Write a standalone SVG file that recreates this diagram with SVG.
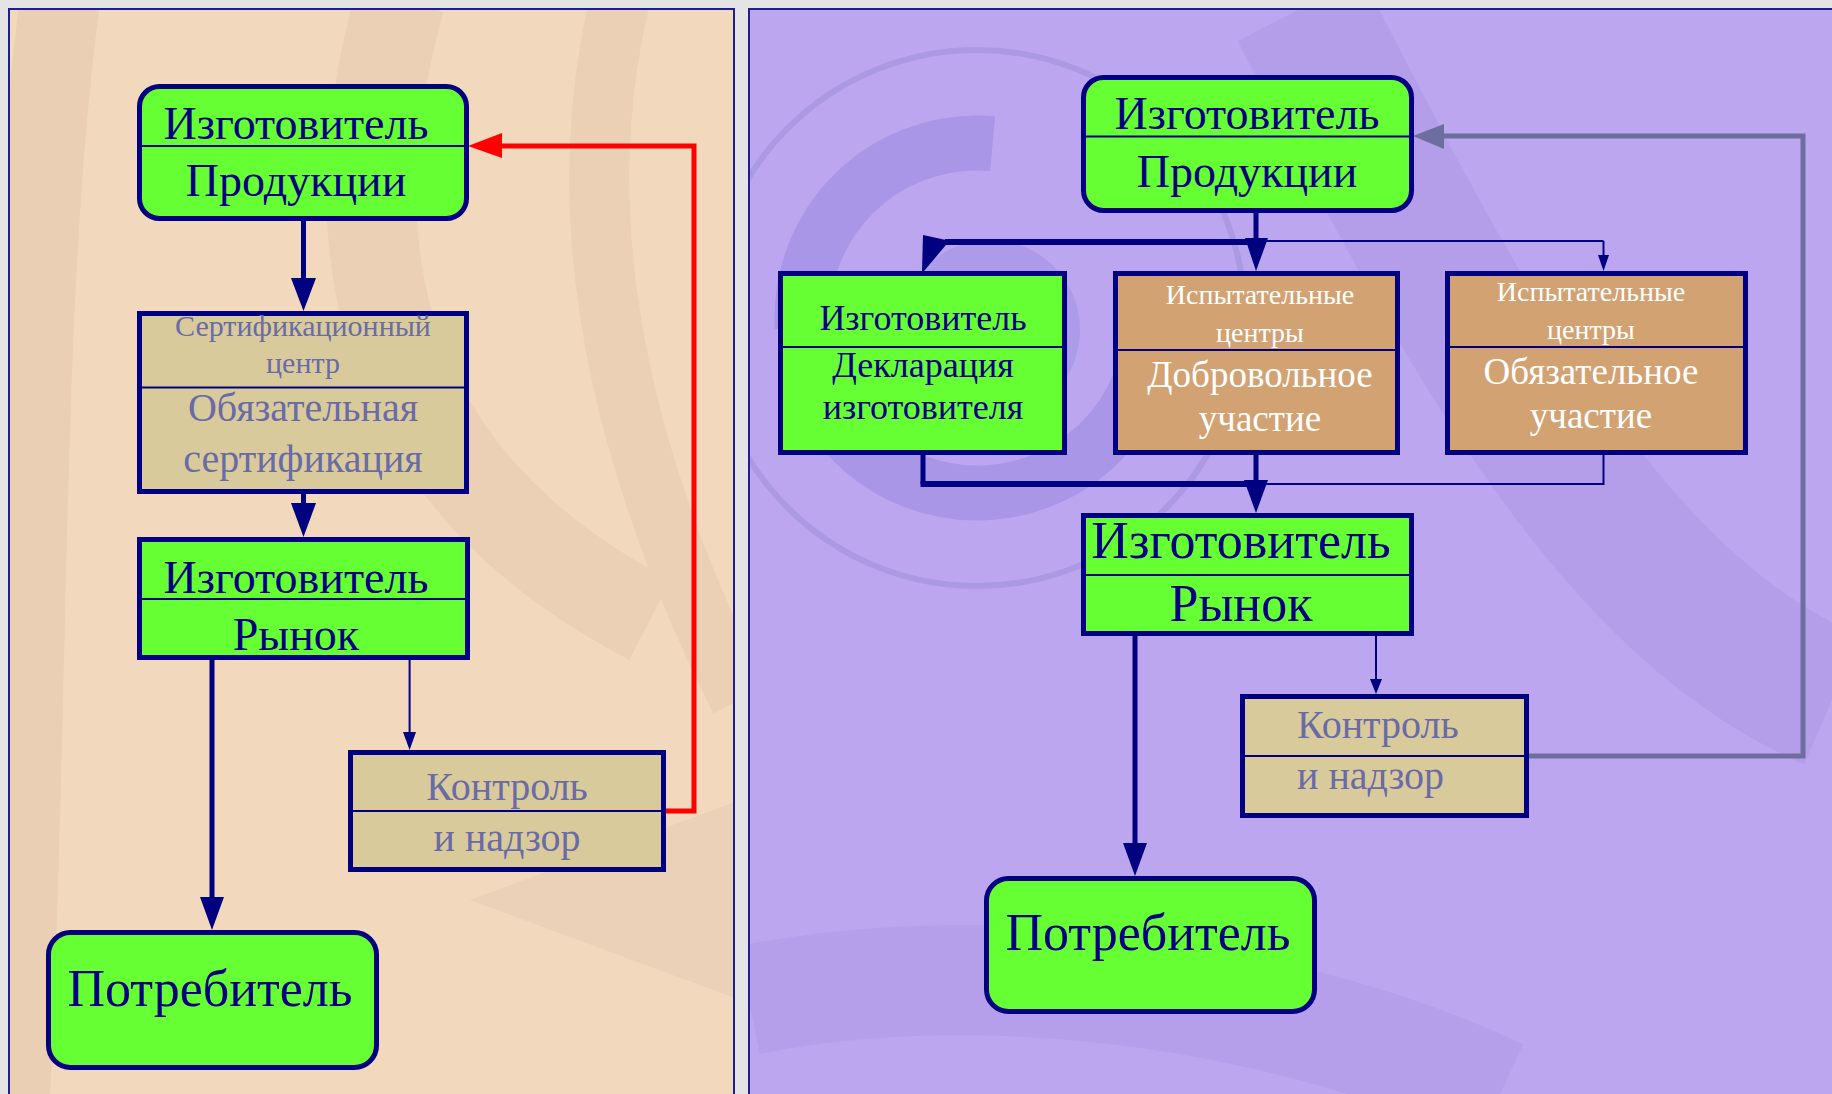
<svg xmlns="http://www.w3.org/2000/svg" width="1832" height="1094" viewBox="0 0 1832 1094">
<defs>
<style>
.g{fill:#66ff33;stroke:#000080;stroke-width:5}
.t{fill:#d9ca9b;stroke:#000080;stroke-width:5}
.o{fill:#d2a273;stroke:#000080;stroke-width:5}
.dv{stroke:#000080;stroke-width:2}
.tx{font-family:"Liberation Serif","Times New Roman",serif;text-anchor:middle}
.n{fill:#000080}
.gb{fill:#6a6aa6}
.w{fill:#ffffff}
.th{stroke:#000080;stroke-width:5;fill:none}
.tn{stroke:#000080;stroke-width:2;fill:none}
.hd{fill:#000080}
</style>
<clipPath id="cl"><rect x="9" y="9" width="725" height="1100"/></clipPath>
<clipPath id="cr"><rect x="749" y="9" width="1090" height="1100"/></clipPath>
</defs>
<rect x="0" y="0" width="1832" height="1094" fill="#e4e4e4"/>
<g id="panel-left">
<rect x="9" y="9" width="725" height="1100" fill="#f2d8bd"/>
<g clip-path="url(#cl)" fill="none">
<path d="M60,0 C 20,300 30,700 10,1094" stroke="#eacfb5" stroke-width="80"/>
<path d="M400,0 C 330,250 380,480 650,620" stroke="#ebd0b6" stroke-width="90"/>
<path d="M470,900 L 740,800 L 740,1000 Z" fill="#ebd1b7"/>
<path d="M620,0 C 560,250 640,500 740,700" stroke="#ebd0b6" stroke-width="60"/>
</g>
<rect x="9" y="9" width="725" height="1100" fill="none" stroke="#1f1f8c" stroke-width="2"/>
</g>
<g id="panel-right">
<rect x="749" y="9" width="1090" height="1100" fill="#bca6f0"/>
<g clip-path="url(#cr)" fill="none">
<path d="M1300,9 C 1450,300 1600,600 1832,700" stroke="#b59ee9" stroke-width="140"/>
<path d="M749,1000 C 1000,950 1300,1000 1500,1094" stroke="#b69fea" stroke-width="110"/>
<circle cx="977" cy="318" r="268" stroke="#ab99e4" stroke-width="6"/>
<circle cx="977" cy="318" r="175" stroke="#a996e6" stroke-width="55" stroke-dasharray="420 120 300 260"/>
<circle cx="990" cy="330" r="90" fill="#ad9ae8"/>
</g>
<rect x="749" y="9" width="1090" height="1100" fill="none" stroke="#1f1f8c" stroke-width="2"/>
</g>

<g id="connectors">
<line class="th" x1="303.5" y1="221" x2="303.5" y2="282"/>
<polygon class="hd" points="291,278 316,278 303.5,311"/>
<line class="th" x1="303.5" y1="494" x2="303.5" y2="506"/>
<polygon class="hd" points="291,503 316,503 303.5,537"/>
<line class="th" x1="212" y1="660" x2="212" y2="900"/>
<polygon class="hd" points="200,897 224,897 212,930"/>
<line class="tn" x1="409.6" y1="660" x2="409.6" y2="735"/>
<polygon class="hd" points="403,732 416,732 409.6,750"/>
<polyline points="666,811 694,811 694,146 500,146" fill="none" stroke="#ff0000" stroke-width="5"/>
<polygon points="502,133 502,158 468,146" fill="#ff0000"/>

<line class="th" x1="1256" y1="213" x2="1256" y2="242"/>
<line x1="945" y1="242" x2="1256" y2="242" stroke="#000080" stroke-width="6"/>
<polygon class="hd" points="923,235 946,240 946,245 924,271 922,271"/>
<line class="tn" x1="1256" y1="241" x2="1603.5" y2="241"/>
<line class="tn" x1="1603.5" y1="241" x2="1603.5" y2="258"/>
<polygon class="hd" points="1598,255 1609,255 1603.5,271"/>
<polygon class="hd" points="1245,238 1268,238 1256,271"/>

<line class="th" x1="923" y1="455" x2="923" y2="484"/>
<line x1="920.5" y1="484" x2="1256" y2="484" stroke="#000080" stroke-width="6"/>
<line class="tn" x1="1256" y1="484" x2="1603.5" y2="484"/>
<line class="tn" x1="1603.5" y1="455" x2="1603.5" y2="485"/>
<line class="th" x1="1256" y1="455" x2="1256" y2="482"/>
<polygon class="hd" points="1244,480 1268,480 1256,513"/>

<line class="th" x1="1135" y1="636" x2="1135" y2="846"/>
<polygon class="hd" points="1123,843 1147,843 1135,876"/>
<line class="tn" x1="1376" y1="636" x2="1376" y2="682"/>
<polygon class="hd" points="1370,679 1382,679 1376,694"/>
<polyline points="1529,756 1803,756 1803,136 1442,136" fill="none" stroke="#6b6e9e" stroke-width="5"/>
<polygon points="1444,124 1444,149 1413,136" fill="#6b6e9e"/>
</g>

<g id="L-izg-prod">
<rect class="g" x="139.5" y="86.5" width="327" height="132" rx="20"/>
<line class="dv" x1="139.5" y1="146" x2="466.5" y2="146"/>
<text class="tx n" x="296" y="139" font-size="46">Изготовитель</text>
<text class="tx n" x="296" y="196" font-size="46">Продукции</text>
</g>
<g id="L-cert">
<rect class="t" x="139.5" y="313.5" width="327" height="178"/>
<line class="dv" x1="139.5" y1="387.5" x2="466.5" y2="387.5"/>
<text class="tx gb" x="303" y="336" font-size="30">Сертификационный</text>
<text class="tx gb" x="303" y="373" font-size="30">центр</text>
<text class="tx gb" x="303" y="421" font-size="40">Обязательная</text>
<text class="tx gb" x="303" y="472" font-size="40">сертификация</text>
</g>
<g id="L-izg-rynok">
<rect class="g" x="139.5" y="539.5" width="328" height="118"/>
<line class="dv" x1="139.5" y1="599" x2="467.5" y2="599"/>
<text class="tx n" x="296" y="593" font-size="46">Изготовитель</text>
<text class="tx n" x="296" y="650" font-size="46">Рынок</text>
</g>
<g id="L-kontrol">
<rect class="t" x="350.5" y="752.5" width="313" height="117"/>
<line class="dv" x1="350.5" y1="811" x2="663.5" y2="811"/>
<text class="tx gb" x="507" y="800" font-size="40">Контроль</text>
<text class="tx gb" x="507" y="851" font-size="40">и надзор</text>
</g>
<g id="L-potr">
<rect class="g" x="48.5" y="932.5" width="328" height="135" rx="22"/>
<text class="tx n" x="210" y="1006" font-size="52">Потребитель</text>
</g>

<g id="R-izg-prod">
<rect class="g" x="1083.5" y="77.5" width="328" height="133" rx="20"/>
<line class="dv" x1="1083.5" y1="136.5" x2="1411.5" y2="136.5"/>
<text class="tx n" x="1247" y="129" font-size="46">Изготовитель</text>
<text class="tx n" x="1247" y="187" font-size="46">Продукции</text>
</g>
<g id="R-decl">
<rect class="g" x="780.5" y="273.5" width="284" height="179"/>
<line class="dv" x1="780.5" y1="347" x2="1064.5" y2="347"/>
<text class="tx n" x="923" y="330" font-size="36">Изготовитель</text>
<text class="tx n" x="923" y="377" font-size="36">Декларация</text>
<text class="tx n" x="923" y="419" font-size="36">изготовителя</text>
</g>
<g id="R-dobr">
<rect class="o" x="1115.5" y="273.5" width="282" height="179"/>
<line class="dv" x1="1115.5" y1="350" x2="1397.5" y2="350"/>
<text class="tx w" x="1260" y="304" font-size="28">Испытательные</text>
<text class="tx w" x="1260" y="342" font-size="28">центры</text>
<text class="tx w" x="1260" y="387" font-size="37">Добровольное</text>
<text class="tx w" x="1260" y="431" font-size="37">участие</text>
</g>
<g id="R-obyaz">
<rect class="o" x="1447.5" y="273.5" width="298" height="179"/>
<line class="dv" x1="1447.5" y1="347" x2="1745.5" y2="347"/>
<text class="tx w" x="1591" y="301" font-size="28">Испытательные</text>
<text class="tx w" x="1591" y="339" font-size="28">центры</text>
<text class="tx w" x="1591" y="384" font-size="37">Обязательное</text>
<text class="tx w" x="1591" y="428" font-size="37">участие</text>
</g>
<g id="R-izg-rynok">
<rect class="g" x="1083.5" y="515.5" width="328" height="118"/>
<line class="dv" x1="1083.5" y1="575" x2="1411.5" y2="575"/>
<text class="tx n" x="1241" y="558" font-size="52">Изготовитель</text>
<text class="tx n" x="1241" y="621" font-size="52">Рынок</text>
</g>
<g id="R-kontrol">
<rect class="t" x="1242.5" y="696.5" width="284" height="119"/>
<line class="dv" x1="1242.5" y1="756" x2="1526.5" y2="756"/>
<text class="tx gb" x="1297" y="738" font-size="40" style="text-anchor:start">Контроль</text>
<text class="tx gb" x="1297" y="789" font-size="40" style="text-anchor:start">и надзор</text>
</g>
<g id="R-potr">
<rect class="g" x="986.5" y="878.5" width="328" height="133" rx="22"/>
<text class="tx n" x="1148" y="950" font-size="52">Потребитель</text>
</g>
</svg>
